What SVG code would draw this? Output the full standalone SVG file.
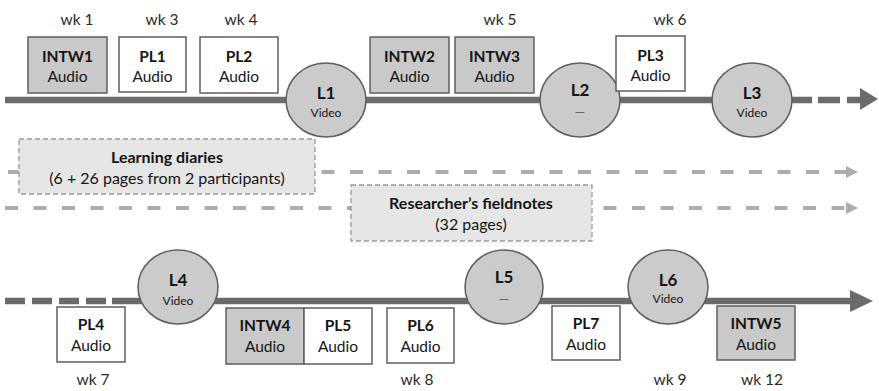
<svg xmlns="http://www.w3.org/2000/svg" width="879" height="391" viewBox="0 0 879 391">
<style>
  .t { font-family: Lato, "Liberation Sans", sans-serif; fill: #151515; text-anchor: middle; }
  .b { font-weight: bold; }
  .box { font-size: 15.5px; }
  .wk { font-size: 15.5px; fill: #2a2a2a; }
  .lt { font-size: 17px; font-weight: bold; }
  .ls { font-size: 12px; }
  .dash { font-size: 13px; fill: #666; }
  .gray { fill: #c9c9c9; stroke: #5e5e5e; stroke-width: 1.5; }
  .white { fill: #ffffff; stroke: #5e5e5e; stroke-width: 1.5; }
  .circ { fill: #cbcbcb; stroke: #5e5e5e; stroke-width: 1.5; }
  .dbox { fill: #e6e6e6; stroke: #9a9a9a; stroke-width: 1.3; stroke-dasharray: 5 3; }
  .tl { stroke: #6b6b6b; stroke-width: 6.5; fill: none; }
  .dl { stroke: #acacac; stroke-width: 4; fill: none; stroke-dasharray: 13 15.5; }
  .note { font-size: 16px; }
</style>
<defs>
  <marker id="ga" viewBox="0 0 10 10" refX="0" refY="5" markerWidth="3" markerHeight="3" orient="auto" markerUnits="strokeWidth">
    <path d="M0,0 L10,5 L0,10 Z" fill="#acacac"/>
  </marker>
</defs>

<g id="connectors">
  <!-- top timeline -->
  <line class="tl" x1="5" y1="100" x2="812" y2="100"/>
  <line class="tl" x1="818" y1="100" x2="840" y2="100"/>
  <line class="tl" x1="847" y1="100" x2="862" y2="100"/>
  <polygon points="860,88 878,99 860,110" fill="#6b6b6b"/>
  <!-- data lines -->
  <line class="dl" x1="8" y1="172" x2="846" y2="172" marker-end="url(#ga)"/>
  <line class="dl" x1="5" y1="208" x2="846" y2="208" marker-end="url(#ga)"/>
  <!-- bottom timeline -->
  <line class="tl" x1="5" y1="301" x2="113" y2="301" stroke-dasharray="20 7"/>
  <line class="tl" x1="112" y1="301" x2="852" y2="301"/>
  <polygon points="850,290 873,301 850,312" fill="#6b6b6b"/>
</g>

<g id="learning-diaries">
  <rect class="dbox" x="19" y="139" width="296" height="55"/>
  <text class="t note b" x="167" y="163">Learning diaries</text>
  <text class="t note" x="167" y="184">(6 + 26 pages from 2 participants)</text>
</g>
<g id="fieldnotes">
  <rect class="dbox" x="351" y="185" width="241" height="56"/>
  <text class="t note b" x="471" y="209">Researcher’s fieldnotes</text>
  <text class="t note" x="471" y="230">(32 pages)</text>
</g>

<!-- top row -->
<g id="INTW1">
  <rect class="gray" x="28" y="37" width="79" height="56"/>
  <text class="t box b" x="67.5" y="62">INTW1</text>
  <text class="t box" x="67.5" y="82">Audio</text>
  <text class="t wk" x="77" y="25">wk 1</text>
</g>
<g id="PL1">
  <rect class="white" x="119" y="37" width="67" height="55"/>
  <text class="t box b" x="152.5" y="62">PL1</text>
  <text class="t box" x="152.5" y="82">Audio</text>
  <text class="t wk" x="162" y="25">wk 3</text>
</g>
<g id="PL2">
  <rect class="white" x="200" y="37" width="78" height="56"/>
  <text class="t box b" x="239" y="62">PL2</text>
  <text class="t box" x="239" y="82">Audio</text>
  <text class="t wk" x="241" y="25">wk 4</text>
</g>
<g id="L1">
  <ellipse class="circ" cx="326" cy="100" rx="40" ry="37"/>
  <text class="t lt" x="326" y="99">L1</text>
  <text class="t ls" x="326" y="117">Video</text>
</g>
<g id="INTW2">
  <rect class="gray" x="370" y="37" width="79" height="56"/>
  <text class="t box b" x="409.5" y="62">INTW2</text>
  <text class="t box" x="409.5" y="82">Audio</text>
</g>
<g id="INTW3">
  <rect class="gray" x="455" y="37" width="79" height="56"/>
  <text class="t box b" x="494.5" y="62">INTW3</text>
  <text class="t box" x="494.5" y="82">Audio</text>
  <text class="t wk" x="500" y="25">wk 5</text>
</g>
<g id="L2">
  <ellipse class="circ" cx="580" cy="100" rx="40" ry="37"/>
  <text class="t lt" x="580" y="96">L2</text>
  <text class="t dash" x="580" y="117">—</text>
</g>
<g id="PL3">
  <rect class="white" x="616" y="36" width="69" height="55"/>
  <text class="t box b" x="650.5" y="61">PL3</text>
  <text class="t box" x="650.5" y="81">Audio</text>
  <text class="t wk" x="670" y="25">wk 6</text>
</g>
<g id="L3">
  <ellipse class="circ" cx="752" cy="100" rx="40" ry="37"/>
  <text class="t lt" x="752" y="99">L3</text>
  <text class="t ls" x="752" y="117">Video</text>
</g>

<!-- bottom row -->
<g id="PL4">
  <rect class="white" x="57" y="307" width="68" height="55"/>
  <text class="t box b" x="91" y="330">PL4</text>
  <text class="t box" x="91" y="351">Audio</text>
  <text class="t wk" x="93" y="385">wk 7</text>
</g>
<g id="L4">
  <ellipse class="circ" cx="178" cy="287" rx="40" ry="37"/>
  <text class="t lt" x="178" y="286">L4</text>
  <text class="t ls" x="178" y="305">Video</text>
</g>
<g id="INTW4">
  <rect class="gray" x="226" y="308" width="78" height="56"/>
  <text class="t box b" x="265" y="331">INTW4</text>
  <text class="t box" x="265" y="352">Audio</text>
</g>
<g id="PL5">
  <rect class="white" x="304" y="308" width="68" height="56"/>
  <text class="t box b" x="338" y="331">PL5</text>
  <text class="t box" x="338" y="352">Audio</text>
</g>
<g id="PL6">
  <rect class="white" x="387" y="308" width="67" height="55"/>
  <text class="t box b" x="420.5" y="331">PL6</text>
  <text class="t box" x="420.5" y="352">Audio</text>
  <text class="t wk" x="417" y="385">wk 8</text>
</g>
<g id="L5">
  <ellipse class="circ" cx="504" cy="287" rx="39" ry="37"/>
  <text class="t lt" x="504" y="283">L5</text>
  <text class="t dash" x="504" y="304">—</text>
</g>
<g id="PL7">
  <rect class="white" x="552" y="306" width="68" height="54"/>
  <text class="t box b" x="586" y="329">PL7</text>
  <text class="t box" x="586" y="350">Audio</text>
</g>
<g id="L6">
  <ellipse class="circ" cx="668" cy="287" rx="40" ry="37"/>
  <text class="t lt" x="668" y="286">L6</text>
  <text class="t ls" x="668" y="303">Video</text>
  <text class="t wk" x="670" y="385">wk 9</text>
</g>
<g id="INTW5">
  <rect class="gray" x="717" y="306" width="78" height="54"/>
  <text class="t box b" x="756" y="329">INTW5</text>
  <text class="t box" x="756" y="350">Audio</text>
  <text class="t wk" x="762" y="385">wk 12</text>
</g>
</svg>
